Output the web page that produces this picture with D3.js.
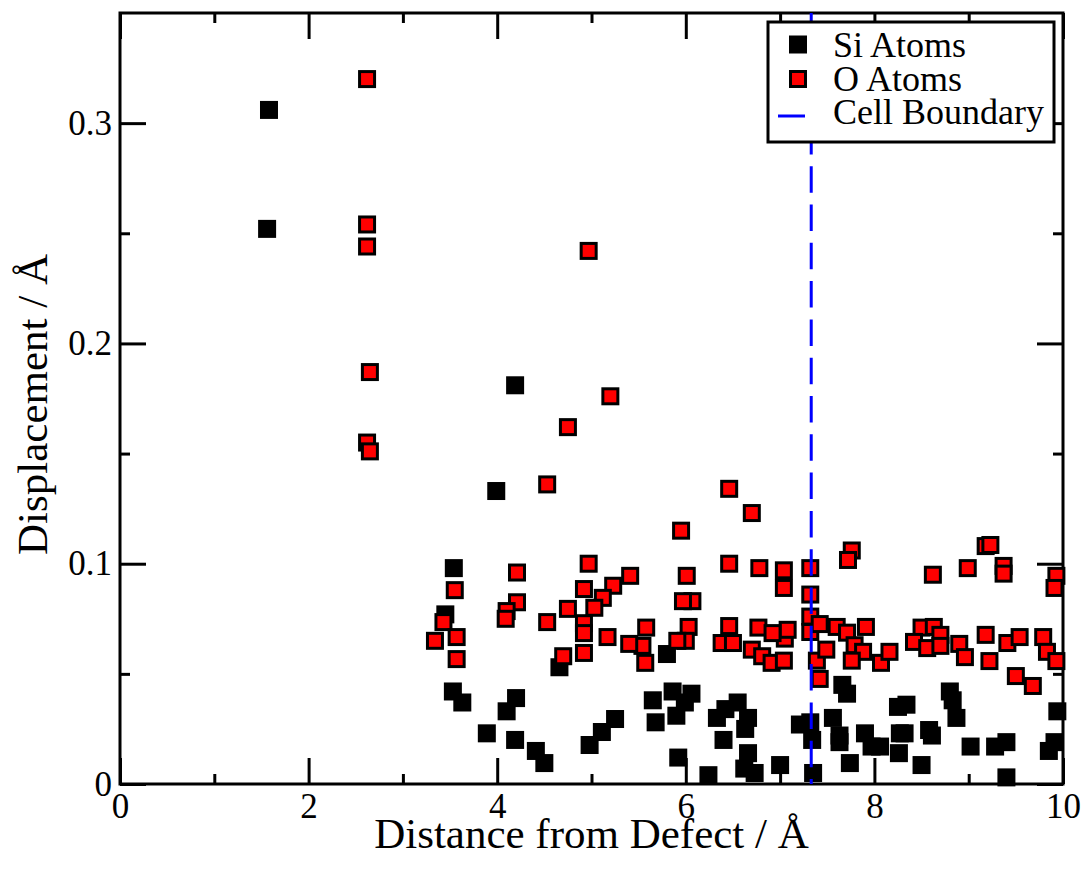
<!DOCTYPE html>
<html>
<head>
<meta charset="utf-8">
<script src="https://cdn.jsdelivr.net/npm/d3@7"></script>
<style>
  html, body { margin: 0; padding: 0; background: #fff; }
  svg { display: block; }
  text { font-family: "Liberation Serif", "Times New Roman", serif; fill: #000; }
</style>
</head>
<body>
<svg id="chart" width="1085" height="871"></svg>
<script>
// ---------------- data ----------------
const siX = [1.58, 1.56, 4.19, 3.99, 3.54, 3.45, 3.53, 3.63, 3.89, 4.10, 4.20, 4.19, 4.41, 4.50, 4.66,
  4.98, 5.11, 5.25, 5.80, 5.65, 5.68, 5.86, 6.06, 5.99, 5.90, 5.92, 6.24, 6.33, 6.42, 6.55, 6.66, 6.63,
  6.40, 6.66, 6.62, 6.73, 7.00, 7.21, 7.32, 7.34, 7.35, 7.66, 7.71, 7.56, 7.63, 7.63, 7.74, 7.90,
  7.97, 8.06, 8.25, 8.34, 8.27, 8.32, 8.26, 8.50, 8.58, 8.61, 8.80, 8.83, 8.87, 9.02, 9.28, 9.40,
  9.40, 9.85, 9.91, 9.94];
const siY = [0.306, 0.252, 0.181, 0.133, 0.098, 0.077, 0.042, 0.037, 0.023, 0.033, 0.039, 0.020, 0.015, 0.0095, 0.053,
  0.0177, 0.0236, 0.0295, 0.059, 0.038, 0.028, 0.042, 0.041, 0.037, 0.031, 0.012, 0.004, 0.030, 0.034, 0.037, 0.030, 0.025,
  0.020, 0.014, 0.007, 0.005, 0.0086, 0.027, 0.028, 0.020, 0.005, 0.045, 0.041, 0.030, 0.022, 0.019, 0.0095, 0.023,
  0.017, 0.017, 0.035, 0.036, 0.023, 0.023, 0.014, 0.0086, 0.0245, 0.022, 0.042, 0.038, 0.030, 0.017, 0.017, 0.019,
  0.003, 0.015, 0.019, 0.033];

const oX = [2.62, 2.62, 2.62, 4.97, 2.65, 4.75, 2.62, 2.65, 4.53, 5.20,
  4.21, 4.97, 3.55, 4.92, 5.23, 4.21, 4.10, 4.09, 5.12, 5.03, 4.75, 4.53, 3.43, 4.92, 4.92, 3.57, 3.34,
  5.17, 3.57, 4.70, 4.92,
  6.46, 6.70, 5.95, 6.46, 6.78, 7.04, 7.32, 7.04, 7.32, 6.01, 5.41, 6.07, 5.97, 5.58, 5.54, 5.40, 5.57,
  6.03, 6.00, 5.91, 6.46, 6.38, 6.50, 6.77, 6.70, 6.81, 6.91, 7.05, 7.08, 6.92, 7.04, 7.32, 7.32, 7.39, 7.42,
  7.76, 7.72, 9.18, 9.23, 8.99, 8.62, 9.37, 9.37, 9.93, 9.91, 7.42, 7.60, 7.71, 7.91, 7.79, 7.88, 7.49,
  7.76, 8.07, 8.16, 8.50, 8.63, 8.70, 8.42, 8.56, 8.70, 8.90, 8.96, 9.18, 9.22, 9.41, 9.54, 9.79, 9.83,
  9.93, 9.50, 9.68];
const oY = [0.320, 0.254, 0.244, 0.242, 0.187, 0.162, 0.155, 0.151, 0.136, 0.176,
  0.096, 0.100, 0.088, 0.0885, 0.090, 0.0825, 0.0785, 0.075, 0.0845, 0.080, 0.0795, 0.0735, 0.0735, 0.073, 0.0685, 0.0667, 0.065,
  0.0667, 0.0567, 0.058, 0.0595,
  0.134, 0.123, 0.115, 0.100, 0.098, 0.097, 0.098, 0.089, 0.086, 0.0945, 0.0945, 0.083, 0.083, 0.071, 0.0627, 0.0636, 0.055,
  0.0713, 0.065, 0.065, 0.0717, 0.064, 0.064, 0.071, 0.061, 0.058, 0.055, 0.066, 0.070, 0.0685, 0.056, 0.069, 0.076, 0.056, 0.0477,
  0.106, 0.1017, 0.108, 0.1085, 0.098, 0.095, 0.099, 0.0955, 0.0945, 0.089, 0.0726, 0.0713, 0.0687, 0.0713, 0.063, 0.060, 0.061,
  0.056, 0.055, 0.060, 0.071, 0.0713, 0.0677, 0.0645, 0.0617, 0.0627, 0.0636, 0.0576, 0.0677, 0.0558, 0.064, 0.0667, 0.0667, 0.060,
  0.0558, 0.049, 0.0445];

const boundaryX = 7.33;
const xDomain = [0, 10];
const yDomain = [0, 0.35];
const xMajorTicks = [0, 2, 4, 6, 8, 10];
const xMinorTicks = [1, 3, 5, 7, 9];
const yMajorTicks = [0, 0.1, 0.2, 0.3];
const yMinorTicks = [0.05, 0.15, 0.25];
const legendLabels = ["Si Atoms", "O Atoms", "Cell Boundary"];
const xTitle = "Distance from Defect / Å";
const yTitle = "Displacement / Å";

// ---------------- layout ----------------
const L = 120, T = 13, R = 1063, B = 784;
const svg = d3.select("#chart");
const x = d3.scaleLinear().domain(xDomain).range([L, R]);
const y = d3.scaleLinear().domain(yDomain).range([B, T]);

const MAJ = 26, MIN = 10, FS = 35;

function styleAxis(g) {
  g.select(".domain").remove();
  g.selectAll(".tick line").attr("stroke", "#000").attr("stroke-width", 3);
  g.selectAll(".tick text").attr("font-size", FS).attr("font-family", "Liberation Serif");
}

// bottom
svg.append("g").attr("transform", `translate(0,${B})`)
  .call(d3.axisBottom(x).tickValues(xMajorTicks).tickSize(-MAJ).tickPadding(9).tickFormat(d3.format("d")))
  .call(styleAxis);
svg.append("g").attr("transform", `translate(0,${B})`)
  .call(d3.axisBottom(x).tickValues(xMinorTicks).tickSize(-MIN).tickFormat(""))
  .call(styleAxis);
// top
svg.append("g").attr("transform", `translate(0,${T})`)
  .call(d3.axisTop(x).tickValues(xMajorTicks).tickSize(-MAJ).tickFormat(""))
  .call(styleAxis);
svg.append("g").attr("transform", `translate(0,${T})`)
  .call(d3.axisTop(x).tickValues(xMinorTicks).tickSize(-MIN).tickFormat(""))
  .call(styleAxis);
// left
svg.append("g").attr("transform", `translate(${L},0)`)
  .call(d3.axisLeft(y).tickValues(yMajorTicks).tickSize(-MAJ).tickPadding(8).tickFormat(d => d === 0 ? "0" : d3.format(".1f")(d)))
  .call(styleAxis);
svg.append("g").attr("transform", `translate(${L},0)`)
  .call(d3.axisLeft(y).tickValues(yMinorTicks).tickSize(-MIN).tickFormat(""))
  .call(styleAxis);
// right
svg.append("g").attr("transform", `translate(${R},0)`)
  .call(d3.axisRight(y).tickValues(yMajorTicks).tickSize(-MAJ).tickFormat(""))
  .call(styleAxis);
svg.append("g").attr("transform", `translate(${R},0)`)
  .call(d3.axisRight(y).tickValues(yMinorTicks).tickSize(-MIN).tickFormat(""))
  .call(styleAxis);

// frame
svg.append("rect").attr("x", L).attr("y", T).attr("width", R - L).attr("height", B - T)
  .attr("fill", "none").attr("stroke", "#000").attr("stroke-width", 3);

// axis titles
svg.append("text").attr("x", (L + R) / 2).attr("y", 848).attr("text-anchor", "middle")
  .attr("font-size", 43).text(xTitle);
svg.append("text").attr("transform", `translate(47,${(T + B) / 2 + 6}) rotate(-90)`)
  .attr("text-anchor", "middle").attr("font-size", 43).text(yTitle);

// points
const S = 15;
const si = siX.map((v, i) => ({ x: v, y: siY[i] }));
const ox = oX.map((v, i) => ({ x: v, y: oY[i] }));
svg.append("g").selectAll("rect").data(si).join("rect")
  .attr("x", d => x(d.x) - S / 2).attr("y", d => y(d.y) - S / 2)
  .attr("width", S).attr("height", S)
  .attr("fill", "#000").attr("stroke", "#000").attr("stroke-width", 3);
svg.append("g").selectAll("rect").data(ox).join("rect")
  .attr("x", d => x(d.x) - S / 2).attr("y", d => y(d.y) - S / 2)
  .attr("width", S).attr("height", S)
  .attr("fill", "#ff0000").attr("stroke", "#000").attr("stroke-width", 3);

// cell boundary
svg.append("line").attr("x1", x(boundaryX)).attr("x2", x(boundaryX))
  .attr("y1", y(yDomain[1])).attr("y2", y(0))
  .attr("stroke", "#0000ff").attr("stroke-width", 3).attr("stroke-dasharray", "26.5,11.8");

// legend
const lg = svg.append("g");
lg.append("rect").attr("x", 768).attr("y", 22).attr("width", 286).attr("height", 120)
  .attr("fill", "#fff").attr("stroke", "#000").attr("stroke-width", 3);
const rowY = [44.5, 79, 116];
lg.append("rect").attr("x", 798 - S / 2).attr("y", rowY[0] - S / 2).attr("width", S).attr("height", S)
  .attr("fill", "#000").attr("stroke", "#000").attr("stroke-width", 3);
lg.append("rect").attr("x", 798 - S / 2).attr("y", rowY[1] - S / 2).attr("width", S).attr("height", S)
  .attr("fill", "#ff0000").attr("stroke", "#000").attr("stroke-width", 3);
lg.append("line").attr("x1", 778).attr("x2", 805).attr("y1", rowY[2]).attr("y2", rowY[2])
  .attr("stroke", "#0000ff").attr("stroke-width", 3);
const baseY = [57, 91, 124];
legendLabels.forEach((t, i) => {
  lg.append("text").attr("x", 833).attr("y", baseY[i]).attr("font-size", 36).text(t);
});
</script>
</body>
</html>
